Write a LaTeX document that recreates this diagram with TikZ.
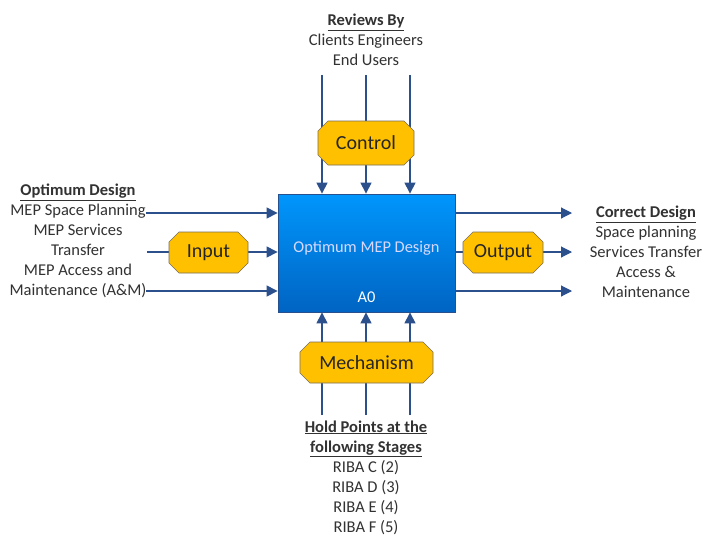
\documentclass[tikz,border=0pt]{standalone}
\usepackage{fontspec}
\setmainfont{Carlito}
\usetikzlibrary{arrows.meta}
\definecolor{flow}{RGB}{44,80,140}
\definecolor{amber}{RGB}{255,192,0}
\definecolor{amberedge}{RGB}{120,110,90}
\definecolor{boxtop}{RGB}{0,150,252}
\definecolor{boxbot}{RGB}{0,100,195}
\definecolor{boxedge}{RGB}{40,80,140}
\definecolor{ink}{RGB}{50,50,50}
\tikzset{
  flowarrow/.style={draw=flow,line width=1.1pt,-{Triangle[length=11pt,width=11pt]},color=flow},
  tagshape/.style={fill=amber,draw=amberedge,line width=0.6pt},
  tag/.style={rectangle,inner sep=0pt,font=\fontsize{20}{22}\selectfont,text=black!85},
  caption/.style={align=center,font=\fontsize{16.5}{20}\selectfont,text=ink,inner sep=0pt},
  mainbox/.style={rectangle,draw=boxedge,line width=0.8pt,top color=boxtop,bottom color=boxbot,
    minimum width=177pt,minimum height=118pt,inner sep=0pt}
}
% octagonal ICOM tag: name, centre x, centre y, width, height, label
\newcommand\icomtag[6]{%
  \path[tagshape]
    ({#2-#4/2+10},{#3-#5/2}) -- ({#2+#4/2-10},{#3-#5/2}) -- ({#2+#4/2},{#3-#5/2+10})
    -- ({#2+#4/2},{#3+#5/2-10}) -- ({#2+#4/2-10},{#3+#5/2}) -- ({#2-#4/2+10},{#3+#5/2})
    -- ({#2-#4/2},{#3+#5/2-10}) -- ({#2-#4/2},{#3-#5/2+10}) -- cycle;
  \node[tag,minimum width=#4pt,minimum height=#5pt] (#1) at (#2,#3) {#6};}
\begin{document}
\begin{tikzpicture}[x=1pt,y=-1pt]
\fill[white] (0,0) rectangle (704,536);
\useasboundingbox (0,0) rectangle (704,536);

% central activity box
\node[mainbox] (main) at (366.5,253) {};
\node[font=\fontsize{16.4}{18}\selectfont,text=blue!15!white,inner sep=0pt] (title) at (366.5,248) {Optimum MEP Design};
\node[font=\fontsize{16.4}{18}\selectfont,text=white,inner sep=0pt] (code) at (366.5,297) {A0};

% free ends of the connectors
\coordinate (t1) at (322,75);
\coordinate (t2) at (366,75);
\coordinate (t3) at (410,75);
\coordinate (b1) at (322,415);
\coordinate (b2) at (366,415);
\coordinate (b3) at (410,415);
\coordinate (l1) at (146,213);
\coordinate (l2) at (147,252);
\coordinate (l3) at (146,291);
\coordinate (r1) at (572,213);
\coordinate (r2) at (572,252);
\coordinate (r3) at (572,291);

% controls (top) and mechanisms (bottom)
\foreach \p in {t1,t2,t3} \draw[flowarrow] (\p) -- (\p |- main.north);
\foreach \p in {b1,b2,b3} \draw[flowarrow] (\p) -- (\p |- main.south);
% inputs (left) and outputs (right)
\foreach \p in {l1,l2,l3} \draw[flowarrow] (\p) -- (\p -| main.west);
\foreach \p in {r1,r2,r3} \draw[flowarrow] (\p -| main.east) -- (\p);

% ICOM tags
\icomtag{control}{366}{143}{96}{44}{Control}
\icomtag{mech}{366.5}{362.5}{133}{41}{Mechanism}
\icomtag{input}{208.5}{252.5}{79}{41}{Input}
\icomtag{output}{503}{252.5}{80}{41}{Output}

% annotations
\node[caption] (reviews) at (366,40) {\underline{\textbf{Reviews By}}\\Clients Engineers\\End Users};
\node[caption] (inputs) at (78,241) {\underline{\textbf{Optimum Design}}\\MEP Space Planning\\MEP Services\\Transfer\\MEP Access and\\Maintenance (A\&M)};
\node[caption] (outputs) at (646,252) {\underline{\textbf{Correct Design}}\\Space planning\\Services Transfer\\Access \&\\Maintenance};
\node[caption] (holds) at (366,477.5) {\underline{\textbf{Hold Points at the}}\\\underline{\textbf{following Stages}}\\RIBA C (2)\\RIBA D (3)\\RIBA E (4)\\RIBA F (5)};
\end{tikzpicture}
\end{document}
